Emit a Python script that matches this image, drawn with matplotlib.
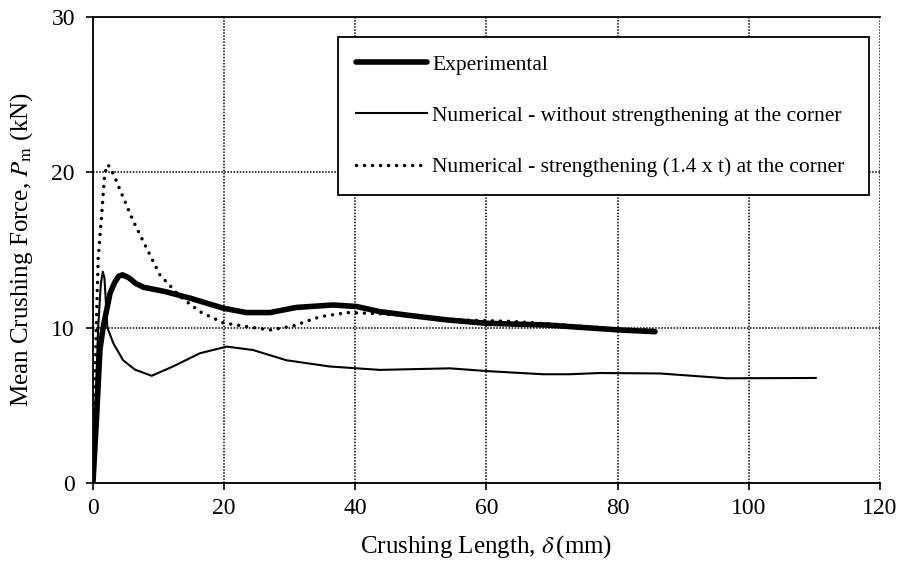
import matplotlib
matplotlib.use("Agg")
from matplotlib import pyplot as plt

plt.rcParams['font.family'] = ['Liberation Serif', 'DejaVu Serif']
plt.rcParams['mathtext.fontset'] = 'stix'

# Experimental curve
exp_x = [0, 0.56, 1.07, 1.57, 2.6, 3.3, 3.9, 4.5, 5.5, 6.5, 7.7, 9.5, 11.2, 14.8, 19.9, 23.4, 27,
         31, 36.6, 40.2, 43.75, 48, 53.9, 60, 69.2, 75, 80.3, 85.7]
exp_y = [0, 4.3, 8.6, 10.06, 12.2, 12.9, 13.3, 13.4, 13.2, 12.85, 12.6, 12.45, 12.3, 11.9, 11.25,
         10.97, 10.97, 11.3, 11.46, 11.36, 11.03, 10.8, 10.5, 10.28, 10.17, 10.0, 9.85, 9.74]

# Numerical - without strengthening
num_x = [0, 0.3, 0.8, 1.2, 1.5, 1.75, 2.2, 3.1, 4.6, 6.4, 8.95, 12.2, 16.3, 20.4, 24.4,
         29.5, 36.1, 43.75, 54.4, 60.2, 68.6, 72.7, 77.3, 86.4, 96.6, 110.2]
num_y = [0, 4.0, 10.06, 12.8, 13.6, 13.2, 10.0, 9.0, 7.9, 7.3, 6.9, 7.5, 8.35, 8.78, 8.56,
         7.9, 7.5, 7.28, 7.38, 7.2, 7.0, 7.0, 7.08, 7.05, 6.74, 6.76]

# Numerical - strengthening (1.4 x t)
str_x = [0, 0.15, 0.3, 0.5, 0.8, 1.3, 1.8, 2.3, 3.1, 4.1, 6.1, 8.2, 10.2, 13.3, 16.3,
         19.9, 23.4, 27, 30.5, 34.6, 38.7, 43.75, 50, 55.9, 64, 72.2, 80.3, 85.6]
str_y = [0, 3.0, 6.4, 10.0, 14.5, 17.1, 19.96, 20.5, 19.9, 18.9, 16.9, 15.1, 13.4, 12.0, 11.03,
         10.3, 10.07, 9.85, 10.1, 10.7, 10.97, 10.9, 10.7, 10.5, 10.4, 10.17, 9.9, 9.85]

fig = plt.figure(figsize=(9.06, 5.73), dpi=100)
ax = fig.add_axes([0.1026, 0.1571, 0.8687, 0.8133])

ax.plot(exp_x, exp_y, color='black', lw=4.0, solid_capstyle='round', solid_joinstyle='round',
        label='Experimental')
ax.plot(num_x, num_y, color='black', lw=1.5, solid_joinstyle='round',
        label='Numerical - without strengthening at the corner')
ax.plot(str_x, str_y, color='black', lw=2.5, linestyle=(0, (0.01, 2.3)), dash_capstyle='round',
        label='Numerical - strengthening (1.4 x t) at the corner')

ax.set_xlim(0, 120)
ax.set_ylim(0, 30)
ax.set_xticks(range(0, 121, 20))
ax.set_yticks(range(0, 31, 10))
ax.grid(True, color='black', linestyle=(0, (1, 1)), linewidth=1.1)
ax.set_axisbelow(True)

for s in ['left', 'bottom', 'top']:
    ax.spines[s].set_linewidth(1.3)
ax.spines['right'].set_visible(False)
ax.tick_params(direction='out', length=5, width=1.2, labelsize=17, pad=6)
ax.tick_params(axis='y', pad=8)

ax.set_xlabel(r'Crushing Length, $\delta\,$(mm)', fontsize=18, labelpad=10)
ax.set_ylabel(r'Mean Crushing Force, $P_{\mathrm{m}}$ (kN)', fontsize=18, labelpad=12)

leg = ax.legend(loc='upper left', bbox_to_anchor=(0.3113, 0.6, 0.675, 0.357), mode='expand',
                borderaxespad=0, fontsize=15.5, handlelength=3.3, handletextpad=0.25,
                labelspacing=1.45, borderpad=0.82, fancybox=False, framealpha=1)
leg.get_frame().set_edgecolor('black')
leg.get_frame().set_linewidth(1.3)

fig.savefig('out.png', dpi=100)
